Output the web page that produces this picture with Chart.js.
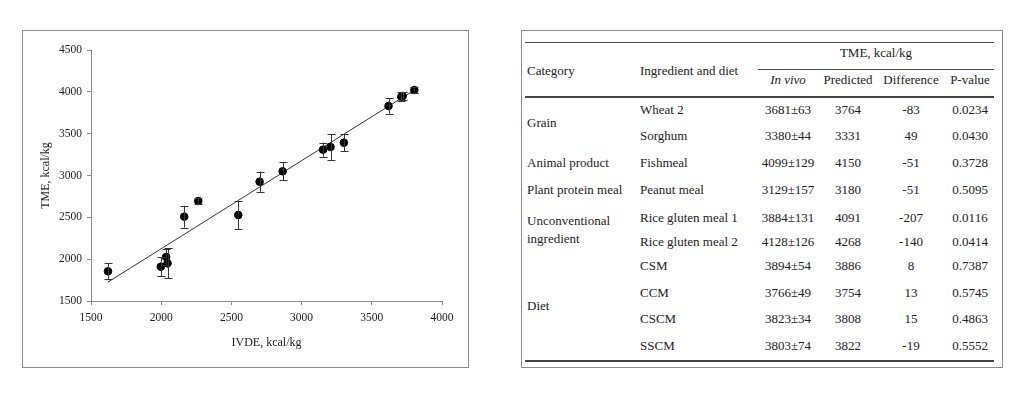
<!DOCTYPE html>
<html>
<head>
<meta charset="utf-8">
<script src="https://cdn.jsdelivr.net/npm/chart.js"></script>
<style>
  html, body { margin: 0; padding: 0; background: #fff; }
  body { width: 1024px; height: 397px; position: relative; overflow: hidden;
         font-family: "Liberation Serif", "Times New Roman", serif; color: #222; }
  .panel { position: absolute; box-sizing: border-box; border: 1px solid #8a8a8a; background: #fff; }
  #chartPanel { left: 22px; top: 30px; width: 447px; height: 338px; }
  #chartPanel canvas { display: block; }
  #tablePanel { left: 521px; top: 30px; width: 482px; height: 338px; }
  .t { position: absolute; font-size: 13px; line-height: 16px; height: 16px; white-space: nowrap; }
  .c { text-align: center; width: 120px; }
  .rule { position: absolute; background: #444; height: 1px; }
</style>
</head>
<body>

<div class="panel" id="chartPanel"><canvas id="scatter" width="445" height="336"></canvas></div>
<div class="panel" id="tablePanel"></div>

<script>
// 산점도 데이터 (IVDE vs TME)
const ivde   = [1621, 1997, 2035, 2045, 2164, 2264, 2549, 2701, 2865, 3153, 3206, 3301, 3619, 3710, 3720, 3803];
const tme    = [1855, 1910, 2026, 1950, 2508, 2695, 2528, 2926, 3050, 3309, 3341, 3392, 3831, 3942, 3950, 4022];
const tmeErr = [  97,  110,  100,  180,  130,   36,  170,  120,  107,   84,  155,  100,   93,   55,   50,   32];

// 회귀선 양 끝점
const fitX = [1620, 3810];
const fitY = [1725, 4029];

// 축 눈금
const xTicks = [1500, 2000, 2500, 3000, 3500, 4000];
const yTicks = [1500, 2000, 2500, 3000, 3500, 4000, 4500];

// 표 데이터
const categoryNames = ['Grain', 'Animal product', 'Plant protein meal', 'Unconventional\ningredient', 'Diet'];
const categorySpans = [2, 1, 1, 2, 4];
const ingredients = ['Wheat 2', 'Sorghum', 'Fishmeal', 'Peanut meal', 'Rice gluten meal 1',
                     'Rice gluten meal 2', 'CSM', 'CCM', 'CSCM', 'SSCM'];
const inVivoMean = [3681, 3380, 4099, 3129, 3884, 4128, 3894, 3766, 3823, 3803];
const inVivoSd   = [63, 44, 129, 157, 131, 126, 54, 49, 34, 74];
const predicted  = [3764, 3331, 4150, 3180, 4091, 4268, 3886, 3754, 3808, 3822];
const difference = [-83, 49, -51, -51, -207, -140, 8, 13, 15, -19];
const pValue     = ['0.0234', '0.0430', '0.3728', '0.5095', '0.0116', '0.0414', '0.7387', '0.5745', '0.4863', '0.5552'];

const FONT = "'Liberation Serif', 'Times New Roman', serif";
const INK = '#222';
const AXIS = '#8a8a8a';

// 오차 막대 플러그인
const errorBars = {
  id: 'errorBars',
  afterDatasetsDraw(chart) {
    const { ctx, scales: { x, y } } = chart;
    ctx.save();
    ctx.strokeStyle = '#333';
    ctx.lineWidth = 1;
    ivde.forEach((v, i) => {
      const px = Math.round(x.getPixelForValue(v)) + 0.5;
      const top = y.getPixelForValue(tme[i] + tmeErr[i]);
      const bot = y.getPixelForValue(tme[i] - tmeErr[i]);
      ctx.beginPath();
      ctx.moveTo(px, top); ctx.lineTo(px, bot);
      ctx.moveTo(px - 4, Math.round(top) + 0.5); ctx.lineTo(px + 4, Math.round(top) + 0.5);
      ctx.moveTo(px - 4, Math.round(bot) + 0.5); ctx.lineTo(px + 4, Math.round(bot) + 0.5);
      ctx.stroke();
    });
    ctx.restore();
  }
};

new Chart(document.getElementById('scatter'), {
  type: 'scatter',
  data: {
    datasets: [
      {
        type: 'line',
        data: fitX.map((v, i) => ({ x: v, y: fitY[i] })),
        borderColor: '#333',
        borderWidth: 1,
        pointRadius: 0,
        fill: false,
        order: 2
      },
      {
        data: ivde.map((v, i) => ({ x: v, y: tme[i] })),
        backgroundColor: '#000',
        borderColor: '#000',
        pointRadius: 3.8,
        order: 1
      }
    ]
  },
  options: {
    responsive: false,
    animation: false,
    layout: { padding: { left: 12, top: 19, right: 26, bottom: 13 } },
    plugins: { legend: { display: false }, tooltip: { enabled: false } },
    scales: {
      x: {
        type: 'linear',
        min: 1500, max: 4000,
        afterBuildTicks: s => { s.ticks = xTicks.map(v => ({ value: v })); },
        afterFit: s => { s.height = 53; },
        border: { color: AXIS, width: 1 },
        grid: { drawOnChartArea: false, drawTicks: true, tickLength: 4, color: AXIS },
        ticks: { color: INK, font: { family: FONT, size: 11.5 }, padding: 6, maxRotation: 0,
                 callback: v => String(v) },
        title: { display: true, text: 'IVDE, kcal/kg', color: INK, font: { family: FONT, size: 12 } }
      },
      y: {
        type: 'linear',
        min: 1500, max: 4500,
        afterBuildTicks: s => { s.ticks = yTicks.map(v => ({ value: v })); },
        afterFit: s => { s.width = 56; },
        border: { color: AXIS, width: 1 },
        grid: { drawOnChartArea: false, drawTicks: true, tickLength: 4, color: AXIS },
        ticks: { color: INK, font: { family: FONT, size: 11.5 }, padding: 5,
                 callback: v => String(v) },
        title: { display: true, text: 'TME, kcal/kg', color: INK, font: { family: FONT, size: 12 } }
      }
    }
  },
  plugins: [errorBars]
});

// 표 그리기 (패널 기준 좌표)
const panel = document.getElementById('tablePanel');
const OX = 522, OY = 31;  // 패널 안쪽 원점 (페이지 좌표)
const rowY = [110, 136, 163, 190, 218, 242, 266, 293, 319, 346];
const colCat = 527, colIng = 640;
const colVivo = 788, colPred = 848, colDiff = 911, colP = 970;

function addText(txt, x, yc, center, italic) {
  const d = document.createElement('div');
  d.className = 't' + (center ? ' c' : '');
  d.textContent = txt;
  d.style.left = ((center ? x - 60 : x) - OX) + 'px';
  d.style.top = (yc - 8 - OY) + 'px';
  if (italic) d.style.fontStyle = 'italic';
  panel.appendChild(d);
}
function addRule(x1, x2, y, h) {
  const r = document.createElement('div');
  r.className = 'rule';
  r.style.left = (x1 - OX) + 'px';
  r.style.width = (x2 - x1) + 'px';
  r.style.top = (y - OY) + 'px';
  r.style.height = (h || 1) + 'px';
  panel.appendChild(r);
}

addRule(525, 994, 42);
addRule(758, 994, 69);
addRule(525, 994, 96, 1.5);
addRule(525, 994, 360, 1.5);

addText('TME, kcal/kg', 876, 53, true);
addText('Category', colCat, 71, false);
addText('Ingredient and diet', colIng, 71, false);
addText('In vivo', colVivo, 80, true, true);
addText('Predicted', colPred, 80, true);
addText('Difference', colDiff, 80, true);
addText('P-value', colP, 80, true);

ingredients.forEach((name, i) => {
  addText(name, colIng, rowY[i], false);
  addText(inVivoMean[i] + '±' + inVivoSd[i], colVivo, rowY[i], true);
  addText(String(predicted[i]), colPred, rowY[i], true);
  addText(String(difference[i]), colDiff, rowY[i], true);
  addText(pValue[i], colP, rowY[i], true);
});

let start = 0;
categoryNames.forEach((name, k) => {
  const rows = rowY.slice(start, start + categorySpans[k]);
  const mid = rows.reduce((a, b) => a + b, 0) / rows.length;
  const lines = name.split('\n');
  lines.forEach((ln, j) => {
    addText(ln, colCat, mid + (j - (lines.length - 1) / 2) * 18, false);
  });
  start += categorySpans[k];
});
</script>
</body>
</html>
